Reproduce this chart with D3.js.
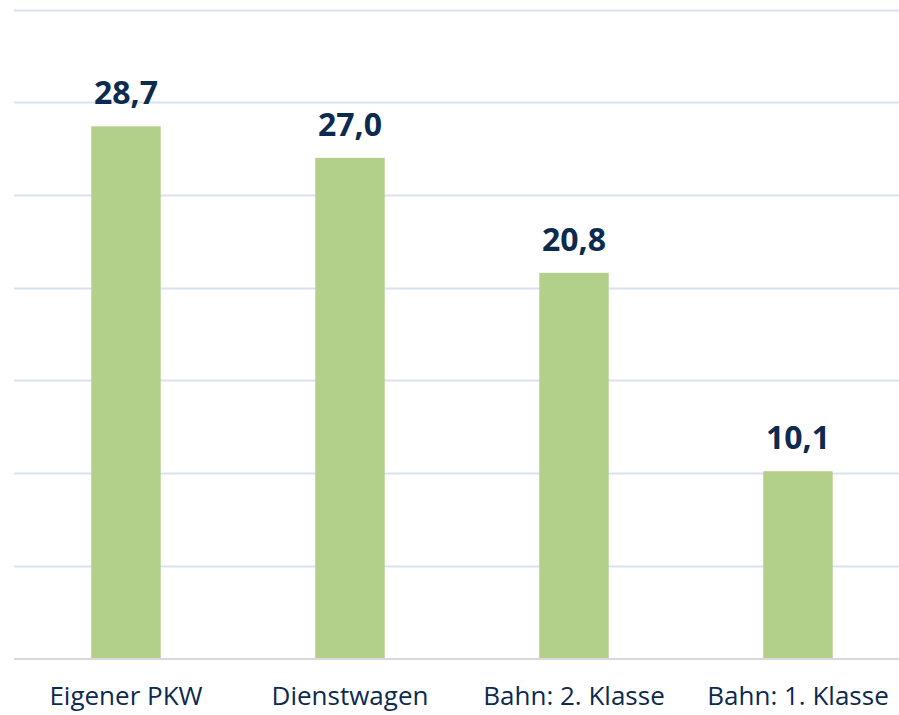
<!DOCTYPE html>
<html><head><meta charset="utf-8">
<script src="https://cdn.jsdelivr.net/npm/d3@7"></script>
<style>html,body{margin:0;padding:0;background:#fff;}svg{display:block;}</style>
</head><body>
<svg id="chart" width="899" height="715"></svg>
<script>
const categories = ["Eigener PKW", "Dienstwagen", "Bahn: 2. Klasse", "Bahn: 1. Klasse"];
const values = [28.7, 27.0, 20.8, 10.1];
const valueLabels = ["28,7", "27,0", "20,8", "10,1"];
const yTicks = [0, 5, 10, 15, 20, 25, 30, 35];

const svg = d3.select("#chart");
const x = d3.scaleBand().domain(categories).range([14, 910]).paddingInner(0.69).paddingOuter(0.345);
const y = d3.scaleLinear().domain([0, 35]).range([658.5, 9.5]);

svg.append("g").selectAll("line").data(yTicks.filter(d => d > 0)).join("line")
  .attr("x1", 14).attr("x2", 899)
  .attr("y1", d => Math.round(y(d)) + 0.5).attr("y2", d => Math.round(y(d)) + 0.5)
  .attr("stroke", "#d9e1f2").attr("stroke-width", 2);

svg.append("g").selectAll("rect").data(values).join("rect")
  .attr("x", (d, i) => x(categories[i]))
  .attr("width", x.bandwidth())
  .attr("y", d => y(d))
  .attr("height", d => y(0) - y(d))
  .attr("fill", "#b3d08b");

svg.append("line").attr("x1", 14).attr("x2", 899).attr("y1", y(0) + 0.5).attr("y2", y(0) + 0.5)
  .attr("stroke", "#d9d9d9").attr("stroke-width", 2);

svg.append("g").selectAll("text").data(values).join("text")
  .attr("x", (d, i) => x(categories[i]) + x.bandwidth() / 2)
  .attr("y", d => y(d) - 22)
  .attr("text-anchor", "middle")
  .attr("font-family", "Open Sans, sans-serif")
  .attr("font-weight", "bold")
  .attr("font-size", 32)
  .attr("fill", "#0d2a4f")
  .text((d, i) => valueLabels[i]);

svg.append("g").selectAll("text").data(categories).join("text")
  .attr("x", d => x(d) + x.bandwidth() / 2)
  .attr("y", 705)
  .attr("text-anchor", "middle")
  .attr("font-family", "Open Sans, sans-serif")
  .attr("font-size", 26)
  .attr("fill", "#0d2a4f")
  .text(d => d);
</script>
</body></html>
